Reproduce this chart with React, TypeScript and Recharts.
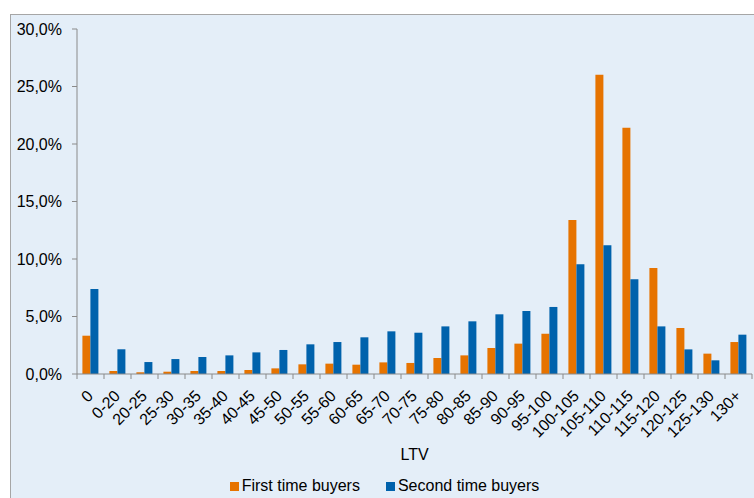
import { Bar, BarChart, Label, Legend, XAxis, YAxis } from 'recharts'

const ltvBands = [
  '0', '0-20', '20-25', '25-30', '30-35', '35-40', '40-45', '45-50', '50-55', '55-60',
  '60-65', '65-70', '70-75', '75-80', '80-85', '85-90', '90-95', '95-100', '100-105',
  '105-110', '110-115', '115-120', '120-125', '125-130', '130+',
]
const firstTimeBuyers = [
  3.33, 0.26, 0.15, 0.2, 0.26, 0.26, 0.35, 0.49, 0.84, 0.9, 0.81, 1.01, 0.96, 1.39, 1.62,
  2.26, 2.64, 3.5, 13.39, 26.03, 21.42, 9.22, 4.0, 1.77, 2.78,
]
const secondTimeBuyers = [
  7.39, 2.15, 1.04, 1.3, 1.48, 1.62, 1.88, 2.09, 2.58, 2.78, 3.19, 3.71, 3.59, 4.14, 4.58,
  5.19, 5.48, 5.83, 9.54, 11.19, 8.23, 4.14, 2.14, 1.19, 3.42,
]
const yTicks = [0, 5, 10, 15, 20, 25, 30]

const ORANGE = '#E67300'
const BLUE = '#0062AC'
const AXIS = '#8A8A8A'
const FONT = '"Liberation Sans", Arial, sans-serif'

const chartData = ltvBands.map((band, i) => ({
  band,
  first: firstTimeBuyers[i],
  second: secondTimeBuyers[i],
}))

const pct = (v: number) => v.toFixed(1).replace('.', ',') + '%'

// excel style: tick marks sit between categories, labels slanted
function XTick(props: any) {
  const { x, y, payload, index } = props
  const half = payload.offset || 13.5
  const lx = x + 3.5
  const ly = y + 23
  return (
    <g>
      <line x1={x - half} x2={x - half} y1={y} y2={y + 5} stroke={AXIS} />
      {index === ltvBands.length - 1 && (
        <line x1={x + half} x2={x + half} y1={y} y2={y + 5} stroke={AXIS} />
      )}
      <text
        x={lx}
        y={ly}
        transform={`rotate(-45, ${lx}, ${ly})`}
        textAnchor="end"
        fontSize={16}
        fontFamily={FONT}
        fill="#000"
      >
        {payload.value}
      </text>
    </g>
  )
}

const renderLegend = () => (
  <div style={{ display: 'flex', justifyContent: 'center', gap: 26, fontFamily: FONT, fontSize: 16, color: '#000', paddingLeft: 6, paddingTop: 5 }}>
    {[['First time buyers', ORANGE], ['Second time buyers', BLUE]].map(([name, color]) => (
      <span key={name} style={{ display: 'flex', alignItems: 'center' }}>
        <span style={{ width: 9, height: 9, background: color, marginRight: 3, display: 'inline-block' }} />
        {name}
      </span>
    ))}
  </div>
)

export default function App() {
  return (
    <div
      style={{
        position: 'absolute',
        left: 10,
        top: 14,
        width: 750,
        height: 490,
        border: '1px solid #A6A6A6',
        background: '#E4EEF8',
        boxSizing: 'border-box',
      }}
    >
      <BarChart
        width={745}
        height={483}
        data={chartData}
        margin={{ top: 14, right: 4, bottom: 0, left: 0 }}
        barCategoryGap="20%"
        barGap={0}
      >
        <XAxis
          dataKey="band"
          interval={0}
          height={98}
          tick={<XTick />}
          tickLine={false}
          tickSize={0}
          tickMargin={0}
          stroke={AXIS}
        >
          <Label value="LTV" position="insideBottom" offset={12} style={{ fontSize: 16, fontFamily: FONT, fill: '#000' }} />
        </XAxis>
        <YAxis
          width={66}
          domain={[0, 30]}
          ticks={yTicks}
          tickFormatter={pct}
          tickSize={5}
          tickMargin={10}
          stroke={AXIS}
          tick={{ fontSize: 16, fontFamily: FONT, fill: '#000' }}
        />
        <Legend verticalAlign="bottom" height={26} content={renderLegend} />
        <Bar dataKey="first" name="First time buyers" fill={ORANGE} isAnimationActive={false} />
        <Bar dataKey="second" name="Second time buyers" fill={BLUE} isAnimationActive={false} />
      </BarChart>
    </div>
  )
}
